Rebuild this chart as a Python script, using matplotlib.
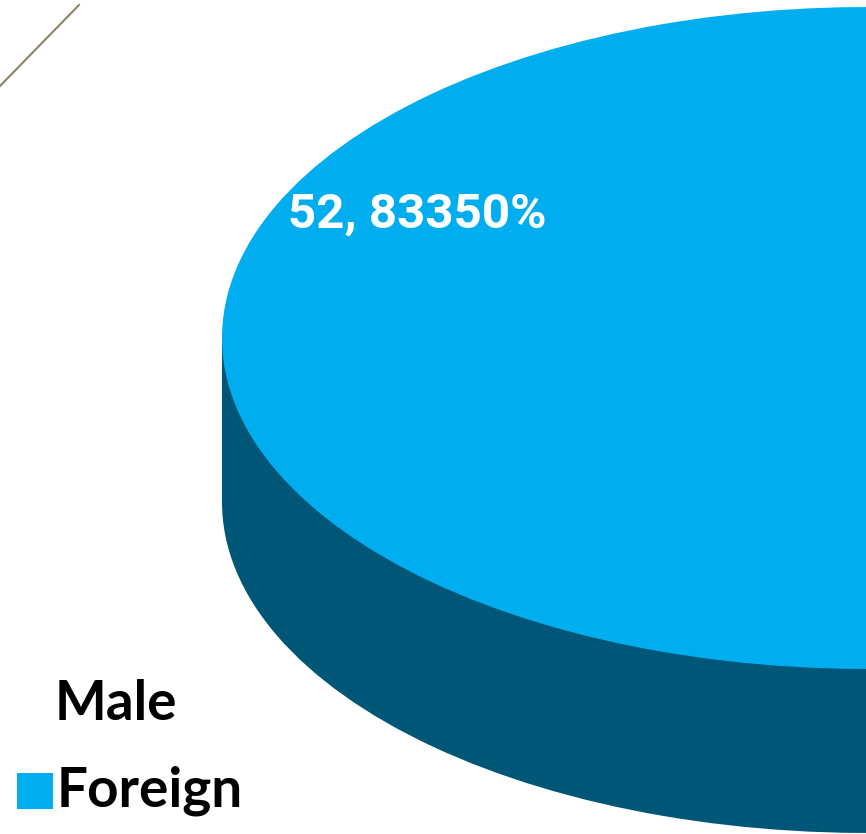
import matplotlib.pyplot as plt
from matplotlib.patches import Rectangle

# data
series_name = "Male"
categories = ["Foreign", "Other"]
values = [52.8335, 47.1665]
colors_top = ["#00AEEF", "#00AEEF"]
colors_side = ["#005677", "#005677"]

W, H = 866, 834
cx, cy, a, b, depth = 868, 338, 646, 331, 164


def pie_axes(fig, dy):
    # axes whose unit circle maps onto the ellipse (pixel coords, y down)
    left = (cx - a) / W
    bottom = 1 - (cy + dy + b) / H
    return fig.add_axes([left, bottom, 2 * a / W, 2 * b / H])


fig = plt.figure(figsize=(W / 100, H / 100), dpi=100)
ax = fig.add_axes([0, 0, 1, 1])
ax.set_xlim(0, W)
ax.set_ylim(H, 0)
ax.axis("off")

# side of the cylinder: shifted copy + band between the two
ax_bot = pie_axes(fig, depth)
ax_bot.pie(values, colors=colors_side, startangle=85, counterclock=True,
           radius=1, wedgeprops=dict(linewidth=0))
ax_bot.set_aspect("auto")
ax_bot.set_xlim(-1, 1)
ax_bot.set_ylim(-1, 1)
ax_bot.axis("off")
ax.add_patch(Rectangle((cx - a, cy), 2 * a, depth, color=colors_side[0], lw=0))

ax_top = pie_axes(fig, 0)
wedges, _ = ax_top.pie(values, colors=colors_top, startangle=85, counterclock=True,
                       radius=1, wedgeprops=dict(linewidth=0))
ax_top.set_aspect("auto")
ax_top.set_xlim(-1, 1)
ax_top.set_ylim(-1, 1)
ax_top.axis("off")

# data label (figure-level so it sits above the pie axes)
label = f"{values[0]:.5f}".replace(".", ", ") + "%"
fig.text(288, 228, label, color="white", fontsize=35.5, fontweight="bold",
         family="Roboto", va="baseline", ha="left", transform=ax.transData)

# legend
ax.text(55, 720, series_name, color="black", fontsize=39.5, fontweight="bold",
        family="Lato", va="baseline", ha="left")
ax.add_patch(Rectangle((17, 773), 36, 36, color=colors_top[0], lw=0))
ax.text(57, 807, categories[0], color="black", fontsize=39.5, fontweight="bold",
        family="Lato", va="baseline", ha="left")

# slide decoration line
ax.plot([0, 79], [86, 5], color="#8B8468", lw=1.5)

fig.savefig("out.png", dpi=100)
